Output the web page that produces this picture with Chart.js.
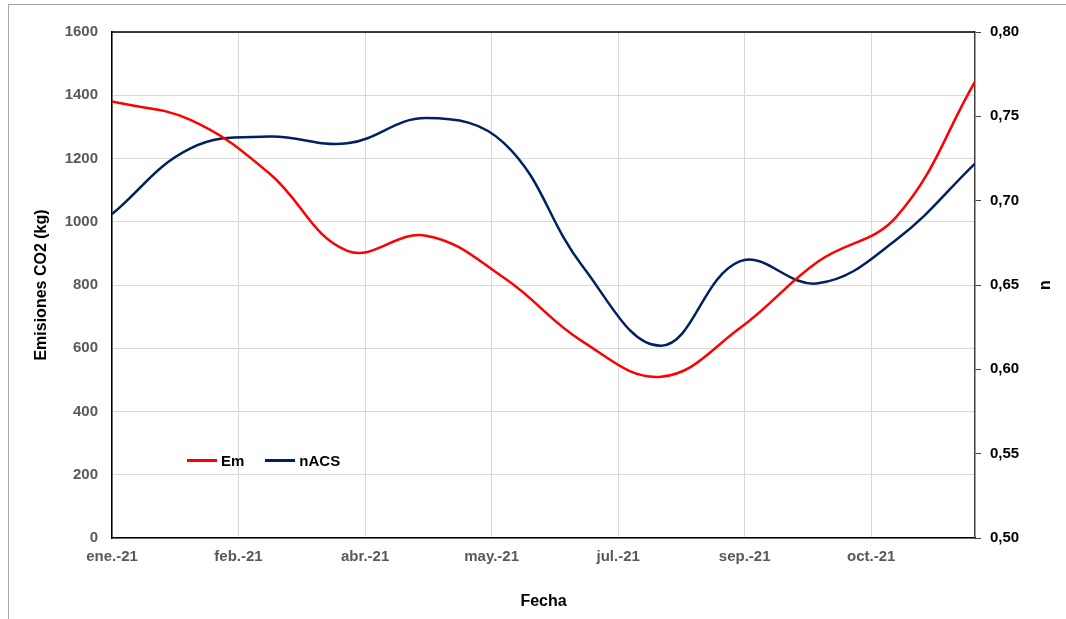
<!DOCTYPE html>
<html>
<head>
<meta charset="utf-8">
<script src="https://cdn.jsdelivr.net/npm/chart.js@4.4.1/dist/chart.umd.min.js"></script>
<style>
  html, body { margin: 0; padding: 0; background: #fff; }
  #wrap { position: relative; width: 1066px; height: 619px; }
  #marco { position: absolute; left: 8px; top: 4px; right: 0; bottom: 0;
           border-left: 1px solid #a6a6a6; border-top: 1px solid #a6a6a6; }
  #leyenda { position: absolute; left: 187px; top: 450px; height: 20px;
             font: bold 15px "Liberation Sans", Arial, sans-serif; color: #000;
             display: flex; align-items: center; }
  #leyenda span.l { display: inline-block; width: 30px; height: 3px; margin-right: 4px; }
  #leyenda span.t { margin-right: 21px; }
</style>
</head>
<body>
<div id="wrap">
  <div id="marco"></div>
  <canvas id="grafico" width="1066" height="619"></canvas>
  <div id="leyenda">
    <span class="l" style="background:#ff0000"></span><span class="t">Em</span>
    <span class="l" style="background:#002060"></span><span class="t">nACS</span>
  </div>
</div>
<script>
// dias desde el 1 de enero de 2021 (un punto por mes)
const dias = [0, 31, 62, 93, 124, 155, 186, 217, 248, 279, 310, 341];
const emisiones = [1380, 1322, 1154, 908, 956, 822, 621, 510, 663, 874, 1016, 1443];
const nACS = [0.692, 0.731, 0.738, 0.734, 0.749, 0.734, 0.661, 0.614, 0.664, 0.651, 0.677, 0.722];
const etiquetasX = ['ene.-21', 'feb.-21', 'abr.-21', 'may.-21', 'jul.-21', 'sep.-21', 'oct.-21'];
const tituloDerecho = 'n';

const fuente = "'Liberation Sans', Arial, sans-serif";

// borde superior del area de trazado y titulo del eje secundario (girado como en Excel)
const extras = {
  id: 'extras',
  afterDraw(chart) {
    const a = chart.chartArea, ctx = chart.ctx;
    ctx.save();
    ctx.strokeStyle = '#000';
    ctx.lineWidth = 1.5;
    ctx.beginPath();
    ctx.moveTo(a.left, a.top);
    ctx.lineTo(a.right, a.top);
    ctx.stroke();

    ctx.translate(1046, (a.top + a.bottom) / 2);
    ctx.rotate(-Math.PI / 2);
    ctx.fillStyle = '#000';
    ctx.font = "bold 16px " + fuente;
    ctx.textAlign = 'center';
    ctx.textBaseline = 'middle';
    ctx.fillText(tituloDerecho, 0, 0);
    ctx.restore();
  }
};

const ctx = document.getElementById('grafico').getContext('2d');
new Chart(ctx, {
  type: 'line',
  data: {
    datasets: [{
      label: 'Em',
      data: dias.map((d, i) => ({ x: d, y: emisiones[i] })),
      borderColor: '#ff0000',
      borderWidth: 2.5,
      pointRadius: 0,
      tension: 0.4,
      yAxisID: 'y'
    }, {
      label: 'nACS',
      data: dias.map((d, i) => ({ x: d, y: nACS[i] })),
      borderColor: '#002060',
      borderWidth: 2.5,
      pointRadius: 0,
      tension: 0.4,
      yAxisID: 'y1'
    }]
  },
  options: {
    responsive: false,
    animation: false,
    layout: { padding: { left: 10, right: 0, top: 32, bottom: 0 } },
    plugins: { legend: { display: false }, tooltip: { enabled: false } },
    scales: {
      x: {
        type: 'linear',
        min: 0,
        max: 341,
        afterBuildTicks: s => { s.ticks = s.ticks.filter(t => t.value % 50 === 0); },
        afterFit: s => { s.height = 81; },
        ticks: {
          stepSize: 50,
          callback: v => etiquetasX[v / 50],
          color: '#595959',
          font: { family: fuente, size: 15, weight: 'bold' },
          padding: 10,
          maxRotation: 0
        },
        grid: { color: '#d9d9d9', drawTicks: false },
        border: { color: '#000', width: 1.5 },
        title: {
          display: true, text: 'Fecha', color: '#000',
          font: { family: fuente, size: 16, weight: 'bold' },
          padding: { top: 0, bottom: 8 }
        }
      },
      y: {
        position: 'left',
        min: 0,
        max: 1600,
        afterFit: s => { s.width = 102; },
        ticks: {
          stepSize: 200,
          callback: v => String(v),
          color: '#595959',
          font: { family: fuente, size: 15, weight: 'bold' },
          padding: 14
        },
        grid: { color: '#d9d9d9', drawTicks: false },
        border: { color: '#000', width: 1.5 },
        title: {
          display: true, text: 'Emisiones CO2 (kg)', color: '#000',
          font: { family: fuente, size: 16, weight: 'bold' },
          padding: { top: 22, bottom: 0 }
        }
      },
      y1: {
        position: 'right',
        min: 0.5,
        max: 0.8,
        afterFit: s => { s.width = 91; },
        ticks: {
          stepSize: 0.05,
          callback: v => v.toFixed(2).replace('.', ','),
          color: '#000',
          font: { family: fuente, size: 15, weight: 'bold' },
          padding: 9
        },
        grid: { drawOnChartArea: false, color: '#404040', tickLength: 6 },
        border: { color: '#404040', width: 1.5 }
      }
    }
  },
  plugins: [extras]
});
</script>
</body>
</html>
